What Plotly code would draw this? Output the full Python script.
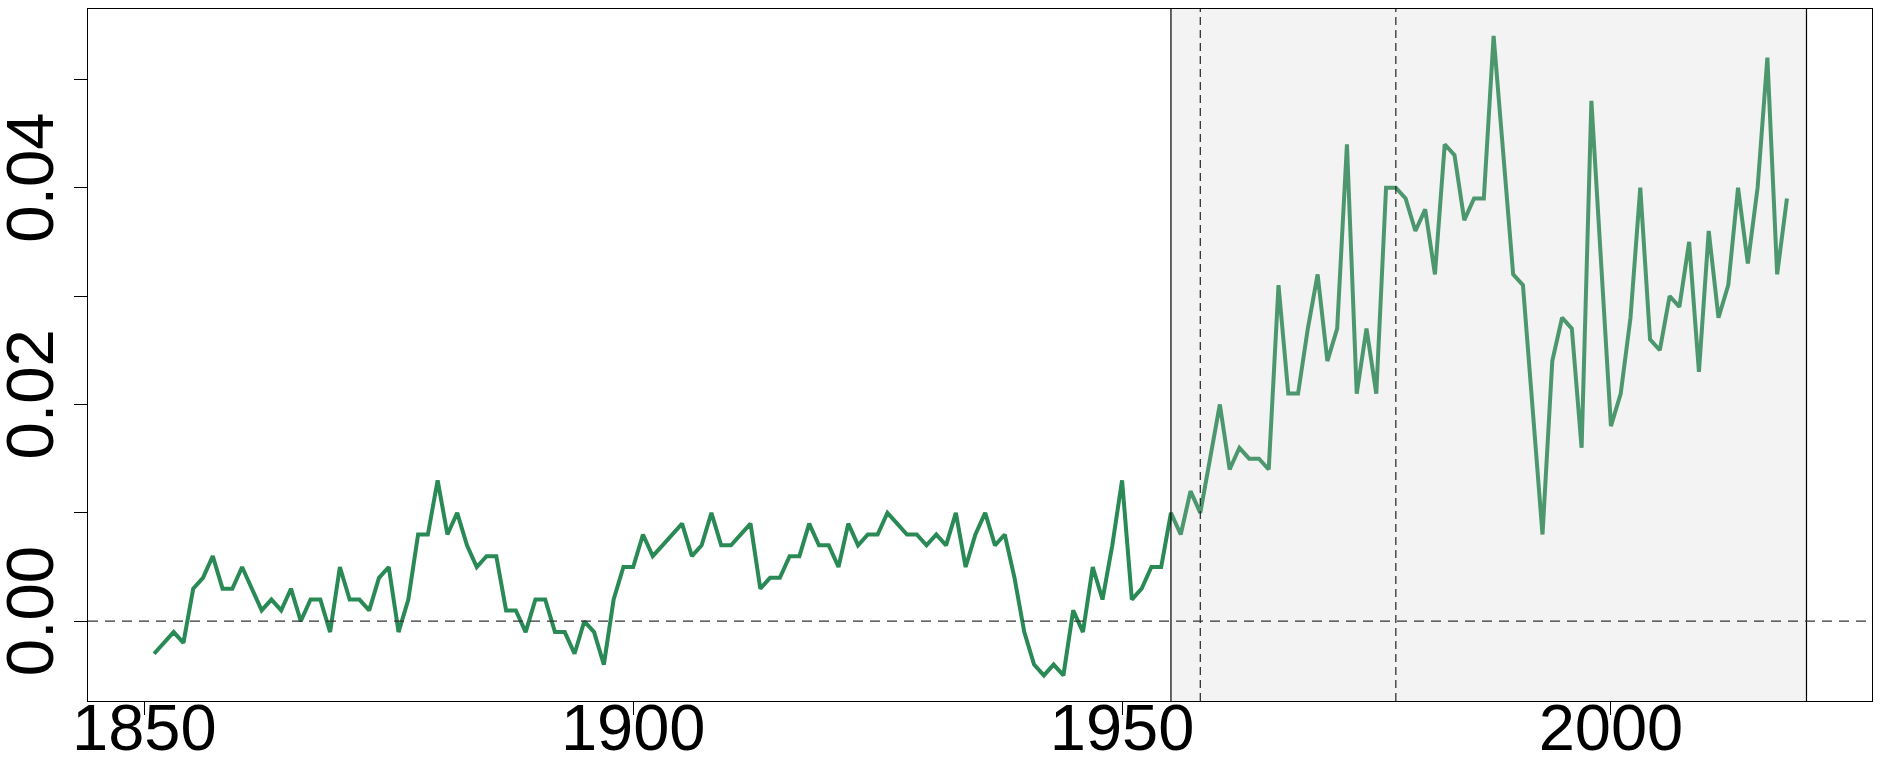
import plotly.graph_objects as go

years = list(range(1851, 2019))
values = [
    -0.003, -0.002, -0.001, -0.002, 0.003, 0.004, 0.006, 0.003, 0.003, 0.005,   # 1851-1860
    0.003, 0.001, 0.002, 0.001, 0.003, 0.000, 0.002, 0.002, -0.001, 0.005,      # 1861-1870
    0.002, 0.002, 0.001, 0.004, 0.005, -0.001, 0.002, 0.008, 0.008, 0.013,      # 1871-1880
    0.008, 0.010, 0.007, 0.005, 0.006, 0.006, 0.001, 0.001, -0.001, 0.002,      # 1881-1890
    0.002, -0.001, -0.001, -0.003, 0.000, -0.001, -0.004, 0.002, 0.005, 0.005,  # 1891-1900
    0.008, 0.006, 0.007, 0.008, 0.009, 0.006, 0.007, 0.010, 0.007, 0.007,       # 1901-1910
    0.008, 0.009, 0.003, 0.004, 0.004, 0.006, 0.006, 0.009, 0.007, 0.007,       # 1911-1920
    0.005, 0.009, 0.007, 0.008, 0.008, 0.010, 0.009, 0.008, 0.008, 0.007,       # 1921-1930
    0.008, 0.007, 0.010, 0.005, 0.008, 0.010, 0.007, 0.008, 0.004, -0.001,      # 1931-1940
    -0.004, -0.005, -0.004, -0.005, 0.001, -0.001, 0.005, 0.002, 0.007, 0.013,  # 1941-1950
    0.002, 0.003, 0.005, 0.005, 0.010, 0.008, 0.012, 0.010, 0.015, 0.020,       # 1951-1960
    0.014, 0.016, 0.015, 0.015, 0.014, 0.031, 0.021, 0.021, 0.027, 0.032,       # 1961-1970
    0.024, 0.027, 0.044, 0.021, 0.027, 0.021, 0.040, 0.040, 0.039, 0.036,       # 1971-1980
    0.038, 0.032, 0.044, 0.043, 0.037, 0.039, 0.039, 0.054, 0.043, 0.032,       # 1981-1990
    0.031, 0.020, 0.008, 0.024, 0.028, 0.027, 0.016, 0.048, 0.033, 0.018,       # 1991-2000
    0.021, 0.028, 0.040, 0.026, 0.025, 0.030, 0.029, 0.035, 0.023, 0.036,       # 2001-2010
    0.028, 0.031, 0.040, 0.033, 0.040, 0.052, 0.032, 0.039,                     # 2011-2018
]

shade_start, shade_end = 1955, 2020
dashed_years = [1958, 1978]
x_tick_vals = [1850, 1900, 1950, 2000]
y_tick_vals = [0.00, 0.02, 0.04]
y_tick_text = ["0.00", "0.02", "0.04"]
y_minor_step = 0.01

fig = go.Figure()
fig.add_trace(go.Scatter(
    x=years, y=values, mode="lines",
    line=dict(color="#2A8A55", width=4),
    showlegend=False, hoverinfo="skip",
))

# shaded period (drawn above line with translucent grey)
fig.add_shape(type="rect", xref="x", yref="paper", x0=shade_start, x1=shade_end, y0=0, y1=1,
              fillcolor="rgba(200,200,200,0.22)", line=dict(width=0), layer="above")
for xv in (shade_start, shade_end):
    fig.add_shape(type="line", xref="x", yref="paper", x0=xv, x1=xv, y0=0, y1=1,
                  line=dict(color="black", width=1.2), layer="above")
for xv in dashed_years:
    fig.add_shape(type="line", xref="x", yref="paper", x0=xv, x1=xv, y0=0, y1=1,
                  line=dict(color="#222222", width=1.2, dash="8px,5px"), layer="above")
fig.add_shape(type="line", xref="paper", yref="y", x0=0, x1=1, y0=0, y1=0,
              line=dict(color="#333333", width=1.3, dash="10px,7px"), layer="above")

font_family = "Liberation Sans, Arial, Helvetica, sans-serif"
fig.update_layout(
    width=1890, height=762,
    margin=dict(l=88, r=18, t=9, b=61),
    paper_bgcolor="white", plot_bgcolor="white",
    font=dict(family=font_family, color="black", size=64),
    xaxis=dict(
        range=[1844.24, 2026.7], tickvals=x_tick_vals,
        ticktext=[str(v) for v in x_tick_vals],
        ticks="outside", ticklen=13, tickwidth=1, tickcolor="black",
        showline=True, linecolor="black", linewidth=1.3, mirror=True,
        showgrid=False, zeroline=False, automargin=False,
        tickfont=dict(size=65, family=font_family),
        ticklabelstandoff=-43,
    ),
    yaxis=dict(
        range=[-0.00736, 0.05648], tickvals=y_tick_vals, ticktext=y_tick_text,
        ticks="outside", ticklen=13, tickwidth=1, tickcolor="black",
        minor=dict(tick0=0, dtick=y_minor_step, ticks="outside", ticklen=13,
                   tickwidth=1, tickcolor="black", showgrid=False),
        showline=True, linecolor="black", linewidth=1.3, mirror=True,
        showgrid=False, zeroline=False, tickangle=-90, automargin=False,
        tickfont=dict(size=67, family=font_family),
        ticklabelstandoff=-6,
    ),
)

fig.write_html(
    "out.html",
    config={"displayModeBar": False},
    post_script="document.body.style.margin='0';document.body.style.overflow='hidden';",
)
